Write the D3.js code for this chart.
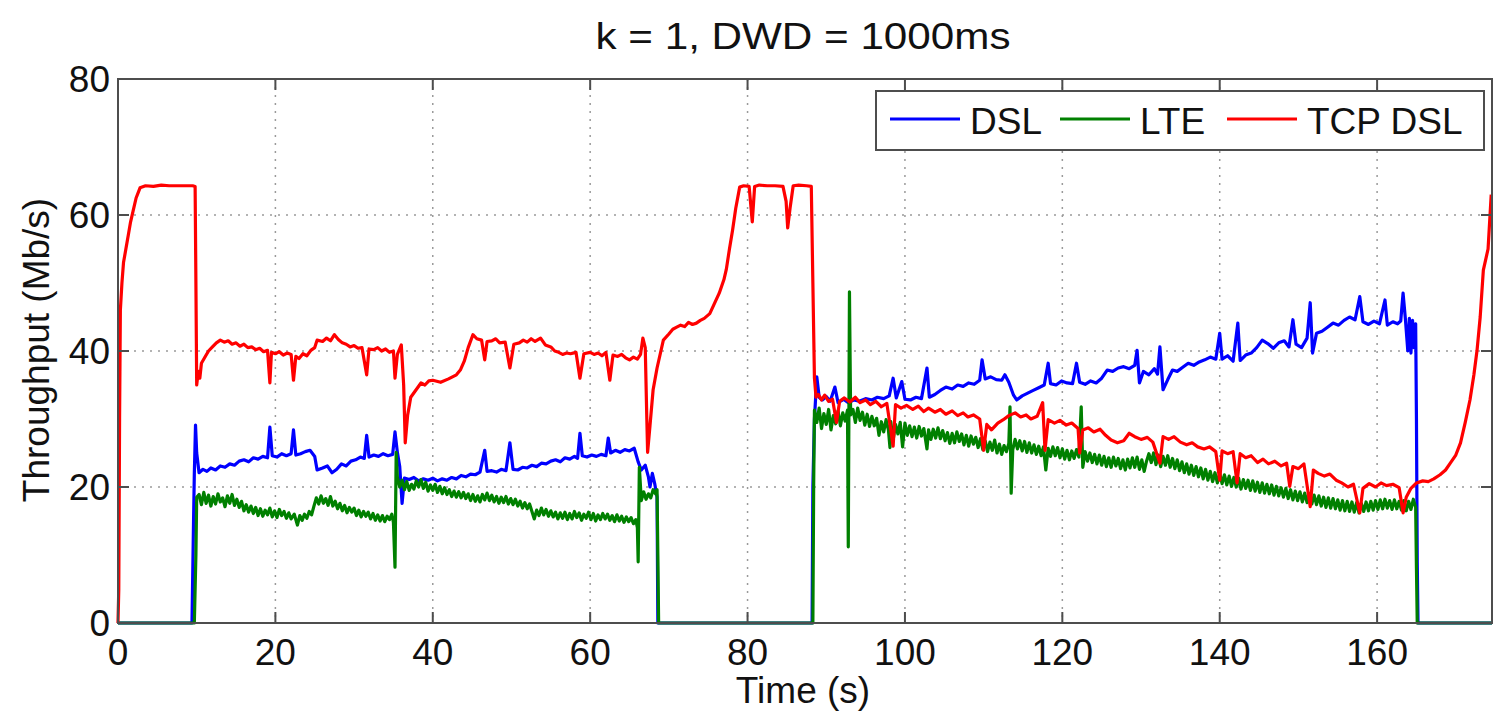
<!DOCTYPE html>
<html>
<head>
<meta charset="utf-8">
<script src="https://cdn.jsdelivr.net/npm/d3@7"></script>
<style>
  body { margin: 0; background: #fff; }
  svg { display: block; font-family: "Liberation Sans", Arial, Helvetica, sans-serif; }
</style>
</head>
<body>
<div id="chart"></div>
<script>
// Tick labels
const xTicks = [0, 20, 40, 60, 80, 100, 120, 140, 160];
const yTicks = [0, 20, 40, 60, 80];

// Series names / colours (legend order = draw order)
const seriesNames = ['DSL', 'LTE', 'TCP DSL'];

// DSL throughput [time s, Mb/s]
const dsl = [
  [0,0],[9.4,0],[9.6,15],[9.7,22],[9.85,29.1],[10.0,25],[10.3,22.1],[10.8,22.6],[11.3,22.3],[11.8,22.8],
  [12.4,22.5],[13,23.1],[13.6,22.9],[14.2,23.4],[14.8,23.2],[15.4,23.8],[16,24.0],[16.6,23.7],[17.2,24.3],
  [17.8,24.1],[18.4,24.5],[19.0,24.3],[19.3,28.8],[19.6,24.6],[20.2,24.4],[20.8,24.9],[21.4,24.6],[22.0,24.9],
  [22.3,28.4],[22.6,24.7],[23.2,24.9],[23.8,25.2],[24.4,25.4],[25.0,24.5],[25.3,22.5],[26,22.8],[26.6,23.1],
  [27.2,22.1],[27.8,22.6],[28.4,23.4],[29,23.1],[29.6,23.8],[30.2,24.0],[30.8,24.4],[31.3,24.2],[31.6,27.6],
  [31.9,24.4],[32.5,24.7],[33.1,24.5],[33.7,24.9],[34.3,24.6],[34.9,24.8],[35.2,28.1],[35.5,25.1],[35.8,23],
  [36.1,17.6],[36.4,21.3],[37,21.1],[37.6,21.4],[38.2,20.9],[38.8,21.2],[39.4,21.0],[40,21.3],[40.6,20.9],
  [41.2,21.2],[41.8,21.0],[42.4,21.4],[43,21.2],[43.6,21.7],[44.2,21.5],[44.8,21.9],[45.4,21.8],[46,22.2],
  [46.6,25.4],[46.9,22.3],[47.5,22.4],[48.1,22.2],[48.7,22.6],[49.3,22.4],[49.8,26.5],[50.2,22.6],[50.8,22.5],
  [51.4,22.9],[52,22.8],[52.6,23.2],[53.2,23.0],[53.8,23.5],[54.4,23.4],[55,23.8],[55.6,24.0],[56.2,23.7],
  [56.8,24.3],[57.4,24.1],[58.0,24.5],[58.4,24.2],[58.7,27.9],[59,24.6],[59.6,24.4],[60.2,24.7],[60.8,24.5],
  [61.4,24.8],[62.0,24.6],[62.3,27.2],[62.6,25.0],[63.2,25.4],[63.8,25.1],[64.4,25.5],[65,25.3],[65.6,25.7],
  [66.1,23.7],[66.5,22.5],[67.0,23.2],[67.4,21.5],[67.6,20.0],[67.9,22.0],[68.2,20.5],[68.5,18.5],[68.6,0],
  [88.2,0],[88.3,20],[88.5,30],[88.8,36.2],[89.1,33.2],[89.5,32.8],[90,33.3],[90.5,32.6],[91.1,34.7],[91.5,32.4],
  [92.2,32.9],[92.8,32.4],[93.5,32.8],[94.2,32.6],[95,33.0],[95.8,32.8],[96.5,33.2],[97.3,33.0],[98,33.4],
  [98.5,36.0],[98.9,33.1],[99.6,35.5],[100,32.9],[100.7,32.8],[101.4,33.2],[102.1,33.0],[102.8,37.5],[103.1,33.2],
  [103.8,33.6],[104.5,34.2],[105.2,34.7],[106,34.4],[106.7,35.0],[107.4,34.8],[108.1,35.3],[108.8,35.1],
  [109.5,35.7],[109.8,38.7],[110.2,35.9],[110.9,36.2],[111.6,35.8],[112.3,35.7],[112.7,36.5],[113.2,35.4],
  [113.8,33.5],[114.2,32.8],[114.9,33.4],[115.6,33.8],[116.3,34.2],[117,34.6],[117.7,35.0],[118.2,38.2],
  [118.5,35.2],[119.2,35.0],[119.9,35.6],[120.6,35.3],[121.3,35.2],[121.8,38.2],[122.2,35.4],[122.9,35.1],
  [123.6,35.6],[124.3,35.3],[125,36.0],[125.7,37.2],[126.4,37.0],[127.1,37.5],[127.8,37.7],[128.5,37.4],
  [129.2,37.9],[129.5,40.1],[129.8,35.3],[130.3,37.0],[131,36.5],[131.7,37.4],[132.1,36.6],[132.4,40.6],
  [132.8,34.3],[133.4,35.8],[134,37.2],[134.6,37.0],[135.3,37.6],[136,38.2],[136.7,37.9],[137.4,38.4],
  [138.1,38.7],[138.8,39.1],[139.5,38.8],[140.0,42.6],[140.3,38.8],[141,39.3],[141.7,38.5],[142.3,44.1],
  [142.6,38.6],[143.3,39.4],[144,39.7],[144.7,40.5],[145.4,41.6],[146.1,41.1],[146.8,40.4],[147.5,41.2],
  [148.2,41.5],[148.8,40.6],[149.3,44.6],[149.7,41.0],[150.4,40.5],[151.1,41.9],[151.5,47.1],[151.8,39.7],
  [152.3,42.6],[153,42.9],[153.7,43.5],[154.4,44.1],[155.1,43.8],[155.8,44.5],[156.5,45.0],[157.2,44.6],
  [157.8,48.0],[158.2,44.3],[158.9,43.9],[159.6,44.4],[160.3,44.0],[161.0,47.5],[161.3,43.8],[162,44.3],
  [162.6,44.0],[163.0,44.4],[163.3,48.5],[163.6,44.6],[163.9,40.0],[164.1,44.8],[164.3,39.7],[164.5,44.5],
  [164.7,40.5],[164.9,44.0],[165.0,30],[165.1,9],[165.2,0],[174.6,0]
];

// LTE throughput [time s, Mb/s]
const lte = [
  [0,0],[9.7,0],[9.9,10],[10.0,18.5],[10.3,18.9],[10.6,17.4],[10.9,19.2],[11.2,17.6],[11.5,18.8],[11.8,17.2],
  [12.1,18.6],[12.4,17.5],[12.7,19.0],[13.0,17.8],[13.3,18.4],[13.6,17.1],[13.9,18.7],[14.2,17.6],[14.5,18.9],
  [14.8,17.3],[15.1,18.2],[15.4,17.0],[15.7,17.9],[16.0,16.5],[16.3,17.4],[16.6,16.3],[16.9,17.2],[17.2,16.1],
  [17.5,17.0],[17.8,15.8],[18.1,16.8],[18.4,15.7],[18.7,16.6],[19.0,15.9],[19.3,16.9],[19.6,15.6],[19.9,16.5],
  [20.2,15.5],[20.5,16.7],[20.8,15.8],[21.1,16.4],[21.4,15.4],[21.7,16.2],[22.0,15.3],[22.4,16.0],[22.8,14.4],
  [23.1,15.8],[23.4,15.1],[23.7,16.0],[24.0,15.4],[24.3,16.4],[24.6,15.9],[24.9,17.2],[25.2,18.4],[25.5,17.5],
  [25.8,18.7],[26.1,17.6],[26.4,18.3],[26.7,17.3],[27.0,18.6],[27.3,17.2],[27.6,17.9],[27.9,16.8],[28.2,17.6],
  [28.5,16.5],[28.8,17.3],[29.1,16.2],[29.4,17.0],[29.7,16.3],[30.0,16.9],[30.3,15.8],[30.6,16.6],[30.9,15.6],
  [31.2,16.4],[31.5,15.7],[31.8,16.3],[32.1,15.3],[32.4,16.1],[32.7,15.1],[33.0,15.9],[33.3,15.0],[33.6,15.8],
  [33.9,14.9],[34.2,15.7],[34.5,15.2],[34.8,16.0],[35.0,14.8],[35.2,8.2],[35.35,25.1],[35.5,21.5],[35.8,20.0],
  [36.1,21.0],[36.4,19.6],[36.7,20.8],[37.0,19.5],[37.3,20.4],[37.6,19.7],[37.9,20.9],[38.2,20.0],[38.5,21.1],
  [38.8,19.8],[39.1,20.7],[39.4,19.4],[39.7,20.3],[40.0,19.5],[40.3,20.4],[40.6,19.2],[40.9,20.1],[41.2,19.0],
  [41.5,19.9],[41.8,18.9],[42.1,19.6],[42.4,18.6],[42.7,19.4],[43.0,18.5],[43.3,19.3],[43.6,18.4],[43.9,19.2],
  [44.2,18.3],[44.5,19.0],[44.8,18.0],[45.1,18.9],[45.4,17.9],[45.7,18.7],[46.0,17.8],[46.3,18.9],[46.6,18.1],
  [46.9,19.1],[47.2,18.0],[47.5,18.8],[47.8,17.8],[48.1,18.6],[48.4,17.6],[48.7,18.5],[49.0,17.7],[49.3,18.6],
  [49.6,17.5],[49.9,18.3],[50.2,17.4],[50.5,18.2],[50.8,17.2],[51.1,17.9],[51.4,16.9],[51.7,17.7],[52.0,16.8],
  [52.3,17.5],[52.6,16.4],[52.9,15.3],[53.2,16.6],[53.5,15.8],[53.8,16.9],[54.1,15.9],[54.4,16.7],[54.7,15.7],
  [55.0,16.5],[55.3,15.6],[55.6,16.3],[55.9,15.3],[56.2,16.2],[56.5,15.4],[56.8,16.3],[57.1,15.2],[57.4,16.1],
  [57.7,15.3],[58.0,16.4],[58.3,15.5],[58.6,16.2],[58.9,15.1],[59.2,16.0],[59.5,15.4],[59.8,16.3],[60.1,15.2],
  [60.4,16.1],[60.7,15.0],[61.0,15.9],[61.3,15.2],[61.6,16.1],[61.9,15.3],[62.2,16.0],[62.5,15.1],[62.8,15.8],
  [63.1,14.9],[63.4,15.9],[63.7,15.0],[64.0,15.7],[64.3,14.8],[64.6,15.6],[64.9,14.9],[65.2,15.5],[65.5,14.6],
  [65.8,15.2],[66.0,14.0],[66.1,9.0],[66.25,22.9],[66.5,18.0],[66.8,19.3],[67.1,18.2],[67.4,19.0],[67.7,18.4],
  [68.0,19.6],[68.3,19.0],[68.5,19.6],[68.6,10],[68.7,0],
  [88.3,0],[88.4,20],[88.5,31.3],[88.8,29.5],[89.1,31.6],[89.4,28.6],[89.7,30.8],[90.0,29.2],[90.3,31.4],
  [90.6,28.4],[90.9,30.5],[91.2,29.3],[91.5,31.2],[91.8,29.0],[92.1,30.9],[92.4,29.7],[92.7,31.3],[92.8,11.2],
  [92.95,48.7],[93.1,30.6],[93.4,31.4],[93.7,29.5],[94.0,31.6],[94.3,29.8],[94.6,31.0],[94.9,29.1],[95.2,30.7],
  [95.5,28.9],[95.8,30.4],[96.1,29.0],[96.4,30.1],[96.7,27.6],[97.0,29.6],[97.3,28.1],[97.6,29.9],[97.9,28.4],
  [98.1,25.8],[98.2,29.6],[98.5,26.9],[98.8,29.2],[99.1,27.8],[99.4,29.5],[99.7,25.9],[100.0,29.4],[100.3,27.6],
  [100.6,29.0],[100.9,27.4],[101.2,28.8],[101.5,27.2],[101.8,28.9],[102.1,27.5],[102.4,28.6],[102.8,25.6],
  [103.0,28.4],[103.3,27.0],[103.6,28.5],[103.9,27.2],[104.2,28.7],[104.5,27.1],[104.8,28.3],[105.1,26.8],
  [105.4,28.0],[105.7,26.4],[106.0,27.9],[106.3,26.5],[106.6,28.1],[106.9,26.7],[107.2,27.8],[107.5,26.2],
  [107.8,27.6],[108.1,26.0],[108.4,27.5],[108.7,26.3],[109.0,27.3],[109.3,25.8],[109.6,27.1],[109.9,25.5],
  [110.2,26.8],[110.5,25.2],[110.8,26.6],[111.1,25.4],[111.4,26.9],[111.7,25.0],[112.0,26.3],[112.3,24.8],
  [112.6,26.1],[112.9,25.2],[113.2,26.4],[113.35,31.8],[113.5,19.1],[113.7,25.5],[114.0,27.0],[114.3,25.6],
  [114.6,26.8],[114.9,25.3],[115.2,26.7],[115.5,25.1],[115.8,26.5],[116.1,25.0],[116.4,26.2],[116.7,24.8],
  [117.0,26.0],[117.3,24.6],[117.6,25.9],[117.9,22.5],[118.2,25.7],[118.5,24.5],[118.8,25.9],[119.1,24.6],
  [119.4,25.8],[119.7,24.3],[120.0,25.6],[120.3,24.1],[120.6,25.4],[120.9,24.0],[121.2,25.3],[121.5,24.2],
  [121.8,25.5],[122.1,24.4],[122.4,31.8],[122.6,22.9],[122.9,25.2],[123.2,23.8],[123.5,25.0],[123.8,23.6],
  [124.1,24.8],[124.4,23.4],[124.7,24.7],[125.0,23.2],[125.3,24.5],[125.6,23.0],[125.9,24.3],[126.2,22.9],
  [126.5,24.4],[126.8,23.1],[127.1,24.2],[127.4,22.7],[127.7,24.0],[128.0,22.5],[128.3,24.1],[128.6,22.8],
  [128.9,24.3],[129.2,22.9],[129.5,24.4],[129.8,22.6],[130.1,24.0],[130.4,22.3],[130.7,23.8],[131.0,24.9],
  [131.3,23.6],[131.6,25.0],[131.9,23.3],[132.2,24.7],[132.5,23.0],[132.8,24.5],[133.1,23.2],[133.4,24.6],
  [133.7,22.9],[134.0,24.2],[134.3,22.7],[134.6,24.0],[134.9,22.4],[135.2,23.7],[135.5,22.1],[135.8,23.4],
  [136.1,21.9],[136.4,23.2],[136.7,21.7],[137.0,23.0],[137.3,21.5],[137.6,22.8],[137.9,21.2],[138.2,22.6],
  [138.5,21.0],[138.8,22.3],[139.1,20.8],[139.4,22.1],[139.7,20.6],[140.0,22.0],[140.3,20.5],[140.6,21.8],
  [140.9,20.3],[141.2,21.6],[141.5,20.1],[141.8,21.4],[142.1,20.0],[142.4,21.3],[142.7,19.7],[143.0,21.1],
  [143.3,19.8],[143.6,21.0],[143.9,19.5],[144.2,20.9],[144.5,19.4],[144.8,20.7],[145.1,19.2],[145.4,20.6],
  [145.7,19.1],[146.0,20.4],[146.3,19.0],[146.6,20.3],[146.9,18.8],[147.2,20.1],[147.5,18.7],[147.8,19.9],
  [148.1,18.5],[148.4,19.8],[148.7,18.3],[149.0,19.6],[149.3,18.1],[149.6,19.4],[149.9,18.0],[150.2,19.3],
  [150.5,17.8],[150.8,19.1],[151.1,17.7],[151.4,19.0],[151.7,17.5],[152.0,18.8],[152.3,17.4],[152.6,18.7],
  [152.9,17.2],[153.2,18.5],[153.5,17.0],[153.8,18.4],[154.1,16.9],[154.4,18.3],[154.7,16.8],[155.0,18.1],
  [155.3,16.6],[155.6,18.0],[155.9,16.5],[156.2,17.9],[156.5,16.4],[156.8,17.8],[157.1,16.3],[157.4,17.7],
  [157.7,16.2],[158.0,17.6],[158.3,16.4],[158.6,17.8],[158.9,16.5],[159.2,17.9],[159.5,16.6],[159.8,18.0],
  [160.1,16.7],[160.4,18.1],[160.7,16.8],[161.0,18.2],[161.3,16.9],[161.6,18.0],[161.9,16.7],[162.2,18.1],
  [162.5,16.8],[162.8,17.9],[163.1,16.6],[163.4,18.0],[163.7,16.5],[164.0,17.9],[164.3,16.7],[164.6,18.2],
  [164.9,17.0],[165.0,8],[165.1,0],[174.6,0]
];

// TCP over DSL throughput [time s, Mb/s]
const tcpDsl = [
  [0,0],[0.1,5],[0.2,30],[0.3,46],[0.5,50],[0.7,53],[1.0,55],[1.3,57],[1.6,59],[1.9,60.5],[2.3,62.5],[2.8,64],
  [3.5,64.3],[4.5,64.2],[5.5,64.4],[6.5,64.3],[7.5,64.3],[8.5,64.3],[9.5,64.3],[9.8,64.2],[9.9,50],[10.0,35],
  [10.2,37],[10.4,36],[10.6,38.2],[11,39],[11.5,40],[12,40.6],[12.5,41.2],[13,41.6],[13.5,41.3],[14,41.5],
  [14.5,41.0],[15,41.2],[15.5,40.7],[16,41.0],[16.5,40.5],[17,40.6],[17.5,40.2],[18,40.4],[18.5,39.9],[19.0,40.1],
  [19.3,35.3],[19.5,39.8],[20,39.6],[20.5,39.9],[21,39.4],[21.5,39.7],[22,39.5],[22.3,35.7],[22.6,39.2],[23,38.9],
  [23.5,39.6],[24,39.3],[24.5,40.1],[25,40.5],[25.3,41.6],[26,41.4],[26.5,41.9],[27,41.5],[27.5,42.4],[28,41.7],
  [28.5,41.2],[29,41.0],[29.5,40.6],[30,40.8],[30.5,40.4],[31,40.5],[31.6,36.5],[31.9,40.3],[32.5,40.2],[33,40.5],
  [33.5,40.0],[34,40.3],[34.5,39.8],[35.0,40.0],[35.2,36],[35.5,39.5],[36.0,40.9],[36.3,35],[36.5,26.5],[36.8,30.5],
  [37.2,33.2],[37.7,34],[38.5,35.3],[39,35.0],[39.5,35.6],[40,35.7],[41,35.4],[42,35.9],[43,36.5],[43.5,37.2],
  [44,38.5],[44.5,40.5],[45.1,42.4],[45.6,41.8],[46.2,41.6],[46.6,38.7],[46.9,41.4],[47.5,41.5],[48,41.8],
  [48.5,41.2],[49.2,41.3],[49.8,37.5],[50.3,41.0],[51,41.2],[51.5,41.6],[52,41.3],[52.5,41.8],[53,41.4],[53.7,41.9],
  [54.3,40.9],[55,40.6],[55.5,40.0],[56,39.8],[56.5,39.5],[57,39.7],[57.5,39.6],[58.2,39.8],[58.7,36.0],[59.2,39.6],
  [60,39.8],[60.5,39.5],[61,39.7],[61.5,39.3],[62.0,39.8],[62.5,35.7],[62.9,39.4],[63.5,39.2],[64,39.5],[64.5,39.0],
  [65,38.7],[65.5,39.1],[66,38.8],[66.4,39.5],[66.7,41.9],[67.0,40.5],[67.2,30],[67.3,25.1],[67.6,29],[68.0,34.3],
  [68.5,37.5],[69.3,41.6],[70,42.5],[70.5,43.2],[71,43.5],[71.5,43.8],[72,43.6],[72.5,44.2],[73,43.9],[73.5,44.1],
  [74,44.5],[74.5,44.8],[75.2,45.5],[75.8,47],[76.4,48.5],[77.0,50.5],[77.3,52],[77.7,55],[78.1,57.8],[78.5,61],
  [79.0,64.1],[79.5,64.3],[80.2,64.2],[80.6,59],[80.9,64.2],[81.5,64.4],[82.5,64.3],[83.5,64.3],[84.5,64.2],
  [84.9,62],[85.1,58.1],[85.4,61],[85.8,64.3],[86.5,64.4],[87.5,64.3],[88.1,64.2],[88.3,50],[88.5,36],[88.7,33.2],
  [89.0,33.6],[89.4,32.8],[89.8,33.5],[90.3,32.6],[90.8,32.9],[91.3,29.5],[91.7,32.6],[92.3,33.1],[93,32.5],
  [93.7,33.2],[94.3,32.4],[95,32.8],[95.6,32.1],[96.3,32.6],[97,31.8],[97.7,32.3],[98.5,26.0],[98.8,32.1],
  [99.5,31.6],[100.2,32.0],[101,31.4],[101.7,31.9],[102.4,31.1],[103,31.6],[103.8,31.0],[104.5,31.4],[105.2,30.7],
  [106,31.2],[106.7,30.5],[107.4,30.9],[108.0,30.3],[108.7,30.6],[109.5,30.0],[110.0,25.4],[110.4,29.2],[111,28.4],
  [111.8,29.4],[112.5,29.9],[113.2,30.5],[114,30.9],[114.7,30.3],[115.4,30.6],[116,30.0],[116.8,30.4],[117.5,32.4],
  [117.8,25.4],[118.2,29.9],[119,29.4],[119.7,29.8],[120.5,29.1],[121.2,29.4],[122.0,28.6],[122.2,25.0],[122.6,28.4],
  [123.3,28.7],[124,28.1],[124.8,28.5],[125.5,27.6],[126.2,26.9],[127,26.5],[127.8,26.8],[128.5,27.9],[129.2,27.4],
  [130,27.0],[130.8,27.3],[131.5,26.6],[132.4,23.5],[132.8,27.4],[133.5,27.0],[134.2,27.4],[135,26.6],[135.8,26.2],
  [136.5,26.5],[137.2,25.9],[138,25.6],[138.7,25.9],[139.5,25.2],[140.0,21.0],[140.3,25.3],[141,24.9],[141.7,25.2],
  [142.2,20.6],[142.6,24.9],[143.3,24.3],[144,24.6],[144.8,23.6],[145.5,24.1],[146.2,23.4],[147,23.8],[147.8,23.1],
  [148.5,23.5],[148.9,20.1],[149.3,23.0],[150,22.7],[150.7,23.4],[151.5,17.1],[151.9,22.5],[152.5,22.0],[153.3,21.6],
  [154,21.9],[154.8,21.0],[155.5,20.6],[156.3,20.0],[157,20.4],[157.8,16.2],[158.2,19.8],[159,20.5],[159.8,20.0],
  [160.5,20.6],[161.2,20.2],[162,20.4],[162.8,19.9],[163.3,16.2],[163.7,18.5],[164.3,19.8],[165.0,20.6],[165.8,20.9],
  [166.5,20.8],[167.2,21.2],[168,21.8],[168.7,22.5],[169.3,23.5],[170,24.7],[170.6,26.5],[171.2,29.5],[171.8,32.8],
  [172.3,36.5],[172.7,40.1],[173.1,45],[173.5,51.9],[174.1,55],[174.5,63]
];

const seriesData = [dsl, lte, tcpDsl];
const seriesColors = ['#0000ff', '#008000', '#ff0000'];

const width = 1501;
const height = 712;
const axisColor = '#4d4d4d';

// Plot box in pixels
const plotLeft = 118, plotRight = 1492, plotTop = 79, plotBottom = 623;

const svg = d3.select('#chart')
    .append('svg')
    .attr('width', width)
    .attr('height', height);

// Scales
const xScale = d3.scaleLinear().domain([0, 174.6]).range([plotLeft, plotRight]);
const yScale = d3.scaleLinear().domain([0, 80]).range([plotBottom, plotTop]);

// Dotted grid
const grid = svg.append('g').attr('class', 'grid');
xTicks.forEach(t => {
    grid.append('line')
        .attr('x1', xScale(t)).attr('x2', xScale(t))
        .attr('y1', plotTop).attr('y2', plotBottom)
        .attr('stroke', '#9a9a9a')
        .attr('stroke-width', 1.5)
        .attr('stroke-dasharray', '2,6');
});
yTicks.forEach(t => {
    grid.append('line')
        .attr('x1', plotLeft).attr('x2', plotRight)
        .attr('y1', yScale(t)).attr('y2', yScale(t))
        .attr('stroke', '#9a9a9a')
        .attr('stroke-width', 1.5)
        .attr('stroke-dasharray', '2,6');
});

// Lines
const line = d3.line()
    .x(d => xScale(d[0]))
    .y(d => yScale(d[1]));

seriesData.forEach((s, i) => {
    svg.append('path')
        .datum(s)
        .attr('fill', 'none')
        .attr('stroke', seriesColors[i])
        .attr('stroke-width', 3.2)
        .attr('stroke-linejoin', 'round')
        .attr('d', line);
});

// Axis box with inward ticks on all sides
const box = svg.append('g').attr('class', 'axes');
box.append('rect')
    .attr('x', plotLeft).attr('y', plotTop)
    .attr('width', plotRight - plotLeft).attr('height', plotBottom - plotTop)
    .attr('fill', 'none')
    .attr('stroke', axisColor)
    .attr('stroke-width', 2);

const tickLen = 11;
xTicks.forEach(t => {
    const x = xScale(t);
    box.append('line').attr('x1', x).attr('x2', x).attr('y1', plotBottom).attr('y2', plotBottom - tickLen)
        .attr('stroke', axisColor).attr('stroke-width', 2);
    box.append('line').attr('x1', x).attr('x2', x).attr('y1', plotTop).attr('y2', plotTop + tickLen)
        .attr('stroke', axisColor).attr('stroke-width', 2);
    box.append('text')
        .attr('x', x).attr('y', 665)
        .attr('text-anchor', 'middle')
        .attr('font-size', '37px')
        .attr('fill', '#111')
        .text(t);
});
yTicks.forEach(t => {
    const y = yScale(t);
    box.append('line').attr('x1', plotLeft).attr('x2', plotLeft + tickLen).attr('y1', y).attr('y2', y)
        .attr('stroke', axisColor).attr('stroke-width', 2);
    box.append('line').attr('x1', plotRight).attr('x2', plotRight - tickLen).attr('y1', y).attr('y2', y)
        .attr('stroke', axisColor).attr('stroke-width', 2);
    box.append('text')
        .attr('x', 110).attr('y', y)
        .attr('dy', '0.36em')
        .attr('text-anchor', 'end')
        .attr('font-size', '37px')
        .attr('fill', '#111')
        .text(t);
});

// Title and axis labels
svg.append('text')
    .attr('x', 803).attr('y', 49)
    .attr('text-anchor', 'middle')
    .attr('font-size', '37px')
    .attr('fill', '#111')
    .attr('textLength', 415)
    .attr('lengthAdjust', 'spacingAndGlyphs')
    .text('k = 1, DWD = 1000ms');

svg.append('text')
    .attr('x', 803).attr('y', 703)
    .attr('text-anchor', 'middle')
    .attr('font-size', '37px')
    .attr('fill', '#111')
    .text('Time (s)');

svg.append('text')
    .attr('transform', 'rotate(-90)')
    .attr('x', -350).attr('y', 49)
    .attr('text-anchor', 'middle')
    .attr('font-size', '37px')
    .attr('fill', '#111')
    .text('Throughput (Mb/s)');

// Legend
const legend = svg.append('g').attr('class', 'legend');
legend.append('rect')
    .attr('x', 876).attr('y', 91)
    .attr('width', 608).attr('height', 59)
    .attr('fill', '#fff')
    .attr('stroke', axisColor)
    .attr('stroke-width', 2);

const legendLineX = [890, 1060, 1227];
seriesNames.forEach((name, i) => {
    const x0 = legendLineX[i];
    legend.append('line')
        .attr('x1', x0).attr('x2', x0 + 70)
        .attr('y1', 119).attr('y2', 119)
        .attr('stroke', seriesColors[i])
        .attr('stroke-width', 3.2);
    legend.append('text')
        .attr('x', x0 + 80).attr('y', 134)
        .attr('font-size', '37px')
        .attr('fill', '#111')
        .text(name);
});
</script>
</body>
</html>
